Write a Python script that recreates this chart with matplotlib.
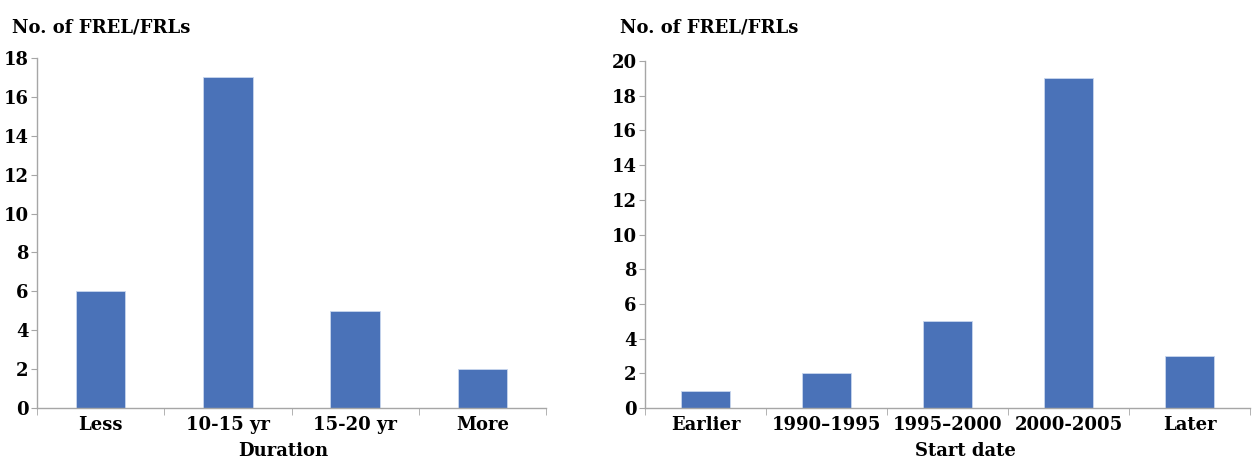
import numpy as np
import matplotlib
matplotlib.use('Agg')
import matplotlib.pyplot as plt

duration_labels = ['Less', '10-15 yr', '15-20 yr', 'More']
duration_counts = [6, 17, 5, 2]

start_labels = ['Earlier', '1990\u20131995', '1995\u20132000', '2000-2005', 'Later']
start_counts = [1, 2, 5, 19, 3]

bar_color = '#4a72b8'
axis_color = '#a6a6a6'
font = {'family': 'DejaVu Serif', 'weight': 'bold', 'size': 13}

fig = plt.figure(figsize=(12.55, 4.61), dpi=100)
ax1 = fig.add_axes([37/1255, 1-408/461, (546-37)/1255, (408-58)/461])
ax2 = fig.add_axes([645/1255, 1-408/461, (1250-645)/1255, (408-61)/461])

def style_panel(ax, labels, counts, ymax, width):
	x = np.arange(len(labels))
	ax.bar(x, counts, width=width, color=bar_color, edgecolor='#c9d6ee', linewidth=0.6, zorder=2)
	ax.set_xlim(-0.5, len(labels) - 0.5)
	ax.set_ylim(0, ymax)
	ax.set_yticks(np.arange(0, ymax + 1, 2))
	ax.set_xticks(x)
	ax.set_xticklabels(labels, fontdict=font)
	ax.set_xticks(np.arange(-0.5, len(labels), 1), minor=True)
	ax.tick_params(axis='x', which='major', length=0, pad=6)
	ax.tick_params(axis='x', which='minor', length=5, color=axis_color, direction='out')
	ax.tick_params(axis='y', length=4, color=axis_color, pad=2)
	for lab in ax.get_yticklabels():
		lab.set_fontfamily('DejaVu Serif')
		lab.set_fontweight('bold')
		lab.set_fontsize(13)
	for s in ['top', 'right']:
		ax.spines[s].set_visible(False)
	for s in ['left', 'bottom']:
		ax.spines[s].set_color(axis_color)
		ax.spines[s].set_linewidth(1)

style_panel(ax1, duration_labels, duration_counts, 18, 0.39)
style_panel(ax2, start_labels, start_counts, 20, 0.41)

fig.text(12/1255, 1-27/461, 'No. of FREL/FRLs', ha='left', va='center', **font)
fig.text(620/1255, 1-27/461, 'No. of FREL/FRLs', ha='left', va='center', **font)
fig.text(283/1255, 1.5/461, 'Duration', ha='center', va='bottom', **font)
fig.text(965/1255, 1.5/461, 'Start date', ha='center', va='bottom', **font)

fig.savefig('out.png', dpi=100)
